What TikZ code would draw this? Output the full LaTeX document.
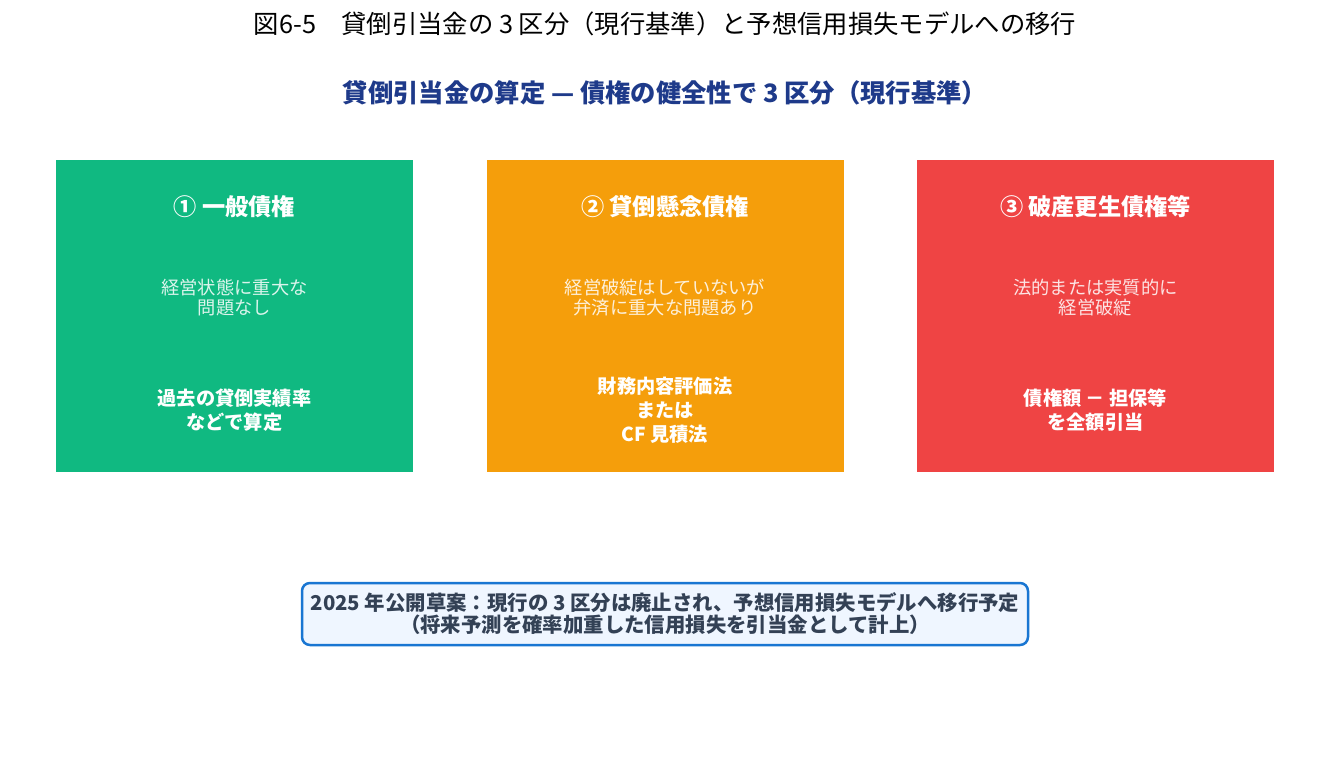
\documentclass[tikz,border=0pt]{standalone}
\usepackage{fontspec}
\setmainfont{Noto Sans CJK JP}
\usepackage{tikz}

\definecolor{kaigreen}{HTML}{10B981}
\definecolor{kaiorange}{HTML}{F59E0B}
\definecolor{kaired}{HTML}{EF4444}
\definecolor{subblue}{HTML}{1E3A8A}
\definecolor{notetext}{HTML}{334155}
\definecolor{notefill}{HTML}{EFF6FF}
\definecolor{noteline}{HTML}{1976D2}

\tikzset{
    kubun/.style={minimum width=357*0.75pt, minimum height=312*0.75pt, inner sep=0pt},
    midashi/.style={text=white, font=\fontsize{17.4}{20}\selectfont\bfseries},
    setsumei/.style={text=white, text opacity=0.85, align=center, font=\fontsize{13.7}{15}\selectfont},
    houhou/.style={text=white, align=center, font=\fontsize{14.4}{18}\selectfont\bfseries}
}

\begin{document}
\begin{tikzpicture}[x=0.75pt, y=-0.75pt]
        \useasboundingbox (0,0) rectangle (1329,768);

        % 标题
        \node (title) at (665,24) {\fontsize{19}{22}\selectfont 図6-5\quad 貸倒引当金の 3 区分（現行基準）と予想信用損失モデルへの移行};
        \node[text=subblue] (sub) at (665,93) {\fontsize{19}{22}\selectfont\bfseries 貸倒引当金の算定 — 債権の健全性で 3 区分（現行基準）};

        % 三个区分
        \node[kubun, fill=kaigreen] (ippan) at (234.5,316) {};
        \node[kubun, fill=kaiorange] (kenen) at (665,316) {};
        \node[kubun, fill=kaired] (hasan) at (1095.5,316) {};

        \node[midashi] (ippan_t) at (234.5,207) {① 一般債権};
        \node[midashi] (kenen_t) at (665,207) {② 貸倒懸念債権};
        \node[midashi] (hasan_t) at (1095.5,207) {③ 破産更生債権等};

        \node[setsumei] (ippan_d) at (234.5,298) {経営状態に重大な\\問題なし};
        \node[setsumei] (kenen_d) at (665,298) {経営破綻はしていないが\\弁済に重大な問題あり};
        \node[setsumei] (hasan_d) at (1095.5,298) {法的または実質的に\\経営破綻};

        \node[houhou] (ippan_h) at (234.5,410) {過去の貸倒実績率\\などで算定};
        \node[houhou] (kenen_h) at (665,410) {財務内容評価法\\または\\CF 見積法};
        \node[houhou] (hasan_h) at (1095.5,410) {債権額 － 担保等\\を全額引当};

        % 注记
        \node[draw=noteline, line width=2.5*0.75pt, fill=notefill, rounded corners=8*0.75pt,
              minimum width=726*0.75pt, minimum height=62*0.75pt, inner sep=0pt,
              text=notetext, align=center, font=\fontsize{15.3}{16.5}\selectfont\bfseries] (note) at (665,614)
              {2025 年公開草案：現行の 3 区分は廃止され、予想信用損失モデルへ移行予定\\（将来予測を確率加重した信用損失を引当金として計上）};
\end{tikzpicture}
\end{document}
